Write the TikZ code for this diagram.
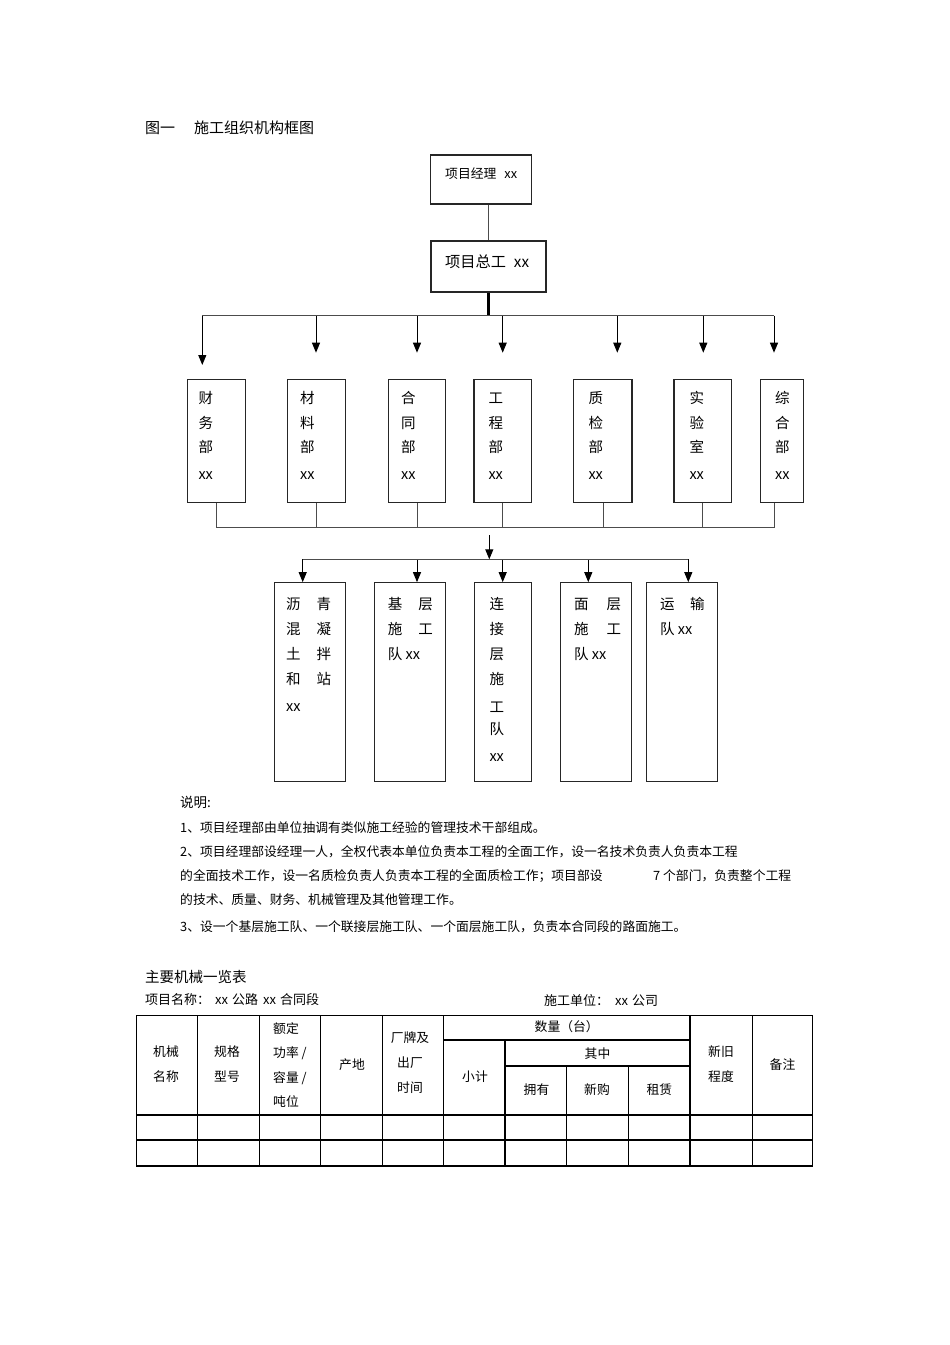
\documentclass[tikz,border=0pt]{standalone}
\usepackage{fontspec}
\setmainfont{Noto Sans CJK SC}
\usetikzlibrary{arrows.meta}

\begin{document}
\begin{tikzpicture}[x=1pt,y=1pt,yscale=-1,xscale=1,
  box/.style={draw=black!85, line width=1.1pt, inner sep=0pt},
  link/.style={draw=black!70, line width=1pt},
  arr/.style={draw=black, line width=1pt, -{Triangle[width=8pt,length=10pt]}},
  boxtext/.style={anchor=north west, inner sep=0pt, align=left, font=\fontsize{14.5}{24.5}\selectfont},
  teamtext/.style={boxtext, font=\fontsize{14.5}{24.8}\selectfont},
  notetext/.style={anchor=west, inner sep=0pt, font=\fontsize{12.8}{15}\selectfont},
  cell/.style={inner sep=0pt, align=center, font=\fontsize{12.8}{25}\selectfont},
  rule/.style={draw=black, line width=1.1pt, line cap=rect}
]
\path[fill=white] (0,0) rectangle (950,1345);

% Title
\node[anchor=west, inner sep=0pt, font=\fontsize{15}{18}\selectfont] (title) at (145,128) {图一\hspace{19pt}施工组织机构框图};

% Top of the chart
\node[box, minimum width=101, minimum height=49] (jl) at (481.2,179.5) {};
\node[anchor=west, inner sep=0pt, font=\fontsize{12.8}{15}\selectfont] (jl-t) at (445,173.3) {项目经理\hspace{8pt}xx};
\node[box, line width=1.8pt, minimum width=115, minimum height=50.7] (zg) at (488.5,266.4) {};
\node[anchor=west, inner sep=0pt, font=\fontsize{15.2}{18}\selectfont] (zg-t) at (445,261.7) {项目总工\hspace{8pt}xx};

\draw[link] (zg.north |- jl.south) -- (zg.north);
\coordinate (bus1) at (488.5,315.7);
\draw[draw=black, line width=2.2pt] (zg.south) -- (bus1);

% Departments
\foreach \nm/\cx/\w/\ax/\ay/\bx/\tx/\lbl in {
  cw/216.4/57.3/202.3/365/216/198.3/财\\务\\部,
  cl/316.5/58.4/316/352.7/316/300/材\\料\\部,
  ht/417/57.4/417/352.7/417/401/合\\同\\部,
  gc/502.8/57.7/502.7/352.7/502.7/488.3/工\\程\\部,
  zj/602.8/58.3/617.3/352.7/603.3/588.3/质\\检\\部,
  sy/702.8/57.7/703.3/352.7/702.7/689.3/实\\验\\室,
  zh/781.7/43.3/774/352.7/774/775/综\\合\\部}
{
  \node[box, minimum width=\w, minimum height=123.4] (\nm) at (\cx,441) {};
  \node[boxtext] (\nm-t) at (\tx,391.2) {\vphantom{财}\lbl\\[2pt]xx};
  \coordinate (\nm-a) at (\ax,\ay);
  \coordinate (\nm-b) at (\bx,527.7);
  \draw[arr] (\nm-a |- bus1) -- (\nm-a);
  \draw[link] (\nm-b |- \nm.south) -- (\nm-b);
}
\draw[link] (cw-a |- bus1) -- (zh-a |- bus1);
\draw[link] (cw-b) -- (zh-b);

% Teams
\coordinate (mid) at (489.3,535);
\coordinate (bus3) at (489.3,559.3);
\draw[arr] (mid) -- (bus3);

\foreach \nm/\cx/\w/\ax/\tx/\lbl in {
  lq/310/71.4/302.7/286/沥\hspace{16pt}青\\混\hspace{16pt}凝\\土\hspace{16pt}拌\\和\hspace{16pt}站\\[2pt]xx,
  jc/409.9/71.7/417/387.7/基\hspace{16pt}层\\施\hspace{16pt}工\\队 xx,
  lj/503/57.4/502.7/489.3/连\\接\\层\\施\\[3pt]工\\[-2pt]队\\[1.5pt]xx,
  mc/595.9/71.7/588.3/574/面\hspace{18pt}层\\施\hspace{18pt}工\\队 xx,
  ys/681.7/71.3/688.3/660/运\hspace{15.5pt}输\\队 xx}
{
  \node[box, minimum width=\w, minimum height=199] (\nm) at (\cx,682.2) {};
  \node[teamtext] (\nm-t) at (\tx,597.5) {\vphantom{财}\lbl};
  \coordinate (\nm-a) at (\ax,559.3);
  \draw[arr] (\nm-a) -- (\nm-a |- \nm.north);
}
\draw[link] (lq-a) -- (ys-a);

% Notes
\node[notetext, font=\fontsize{13.5}{16}\selectfont] (sm) at (180,802) {说明:};
\node[notetext] (n1) at (180,827.5) {1、项目经理部由单位抽调有类似施工经验的管理技术干部组成。};
\node[notetext] (n2) at (180,852) {2、项目经理部设经理一人，全权代表本单位负责本工程的全面工作，设一名技术负责人负责本工程};
\node[notetext] (n3) at (180,876) {的全面技术工作，设一名质检负责人负责本工程的全面质检工作；项目部设};
\node[notetext] (n3b) at (653,876) {7 个部门，负责整个工程};
\node[notetext] (n4) at (180,900) {的技术、质量、财务、机械管理及其他管理工作。};
\node[notetext] (n5) at (180,927) {3、设一个基层施工队、一个联接层施工队、一个面层施工队，负责本合同段的路面施工。};

% Machine table
\node[anchor=west, inner sep=0pt, font=\fontsize{14.5}{17}\selectfont] (tb) at (145,977) {主要机械一览表};
\node[notetext, font=\fontsize{13}{15}\selectfont] (xm) at (145,1000) {项目名称：\hspace{5pt}xx\hspace{4pt}公路\hspace{5pt}xx\hspace{4pt}合同段};
\node[notetext, font=\fontsize{13}{15}\selectfont] (dw) at (544,1000) {施工单位：\hspace{6pt}xx\hspace{4pt}公司};

\foreach \x in {136.7,197.7,259.3,320.7,382.3,443.3,690,752.3,812.7}
  \draw[rule] (\x,1015.7) -- (\x,1166);
\draw[rule] (505,1040) -- (505,1166);
\foreach \x in {566.7,628.3}
  \draw[rule] (\x,1066) -- (\x,1166);
\foreach \y in {1015.7,1115,1140,1166}
  \draw[rule] (136.7,\y) -- (812.7,\y);
\draw[rule] (443.3,1040) -- (690,1040);
\draw[rule] (505,1066) -- (690,1066);

\node[cell] (c1) at (166,1064.2) {机械\\名称};
\node[cell] (c2) at (227,1064.2) {规格\\型号};
\node[cell, anchor=west, align=left, font=\fontsize{12.8}{24.5}\selectfont] (c3) at (273,1065) {额定\\功率 /\\容量 /\\吨位};
\node[cell] (c4) at (352,1065) {产地};
\node[cell] (c5) at (410,1063) {厂牌及\\出厂\\时间};
\node[cell] (c6) at (475,1076.5) {小计};
\node[cell] (c7) at (566.7,1027) {数量（台）};
\node[cell] (c8) at (597.5,1053.3) {其中};
\node[cell] (c9) at (536.5,1090) {拥有};
\node[cell] (c10) at (597,1090) {新购};
\node[cell] (c11) at (659.3,1090) {租赁};
\node[cell] (c12) at (721,1064.5) {新旧\\程度};
\node[cell] (c13) at (782.5,1065) {备注};

\end{tikzpicture}
\end{document}
